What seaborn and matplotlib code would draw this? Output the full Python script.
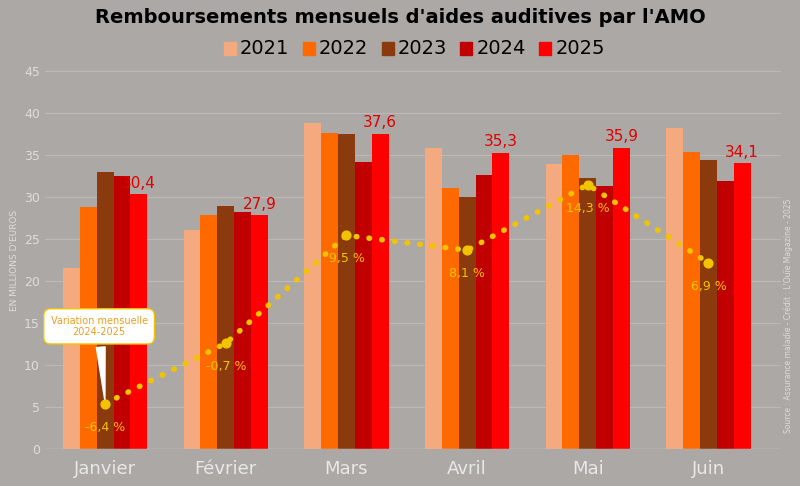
import matplotlib
matplotlib.use("Agg")
import matplotlib.pyplot as plt
import seaborn as sns
import pandas as pd
import numpy as np

months = ["Janvier", "Février", "Mars", "Avril", "Mai", "Juin"]
years = ["2021", "2022", "2023", "2024", "2025"]
v2021 = [21.6, 26.1, 38.8, 35.9, 34.0, 38.3]
v2022 = [28.8, 27.9, 37.7, 31.1, 35.0, 35.4]
v2023 = [33.0, 29.0, 37.6, 30.0, 32.3, 34.4]
v2024 = [32.5, 28.3, 34.2, 32.6, 31.4, 31.9]
v2025 = [30.4, 27.9, 37.6, 35.3, 35.9, 34.1]
variation = [-6.4, -0.7, 9.5, 8.1, 14.3, 6.9]
colors = ["#f4a97e", "#ff6a00", "#8b3a0e", "#c00000", "#ff0000"]
bg = "#aca8a6"

rows = []
for y, vals in zip(years, [v2021, v2022, v2023, v2024, v2025]):
    for m, v in zip(months, vals):
        rows.append(dict(mois=m, annee=y, val=v))
df = pd.DataFrame(rows)

W = 0.7
fig = plt.figure(figsize=(8, 4.86), dpi=100, facecolor=bg)
ax = fig.add_axes([0.056, 0.076, 0.92, 0.777], facecolor=bg)
sns.barplot(data=df, x="mois", y="val", hue="annee", palette=colors, ax=ax,
            width=W, saturation=1, legend=False)
ax.set_ylim(0, 45)
ax.set_xlim(-0.5, 5.6)
ax.set_yticks(range(0, 46, 5))
for s in ax.spines.values():
    s.set_visible(False)
ax.grid(axis="y", color="#bdb9b7", lw=0.8)
ax.set_axisbelow(True)
ax.tick_params(axis="y", colors="#dddddd", labelsize=9, length=0)
ax.tick_params(axis="x", colors="#e8e8e8", labelsize=13, length=0, pad=8)
ax.axhline(0, color="#d0cccb", lw=1)
ax.set_xlabel("")
ax.set_ylabel("EN MILLIONS D'EUROS", color="#dddddd", fontsize=6.5)
n = len(years); w = W / n
for i, v in enumerate(v2025):
    ax.text(i + 2 * w, v + 0.4, f"{v:.1f}".replace(".", ","), ha="center", va="bottom",
            color="#e00000", fontsize=11)

ax2 = ax.twinx()
ax2.set_ylim(-10.7, 25)
ax2.axis("off")
x = np.arange(len(months))
ax2.plot(x, variation, ls=(0, (0.1, 2.2)), lw=4, color="#f2c400", dash_capstyle="round")
ax2.scatter(x, variation, s=40, color="#f2c400", zorder=5)
for i, v in enumerate(variation):
    ax2.text(i, v - 1.6, f"{v:.1f} %".replace(".", ","), ha="center", va="top",
             color="#f2c400", fontsize=9)
ax2.annotate("Variation mensuelle\n2024-2025", xy=(0, variation[0]), xytext=(-0.05, 0.9),
             ha="center", va="center", color="#e8a020", fontsize=7,
             bbox=dict(boxstyle="round,pad=0.7", fc="white", ec="#f2c400"),
             arrowprops=dict(arrowstyle="wedge,tail_width=0.9", fc="white", ec="white"))

fig.text(0.5, 0.963, "Remboursements mensuels d'aides auditives par l'AMO", ha="center", va="center",
         fontsize=14, fontweight="bold", color="black")
xs = 0.28
for y, c in zip(years, colors):
    fig.patches.append(plt.Rectangle((xs, 0.887), 0.015, 0.027, color=c, transform=fig.transFigure))
    fig.text(xs + 0.02, 0.9, y, fontsize=14, va="center", color="black")
    xs += 0.0985
fig.text(0.985, 0.35, "Source : Assurance maladie - Crédit : L'Ouïe Magazine - 2025", rotation=90,
         fontsize=5.5, color="#dddddd", ha="center", va="center")
fig.savefig("out.png", facecolor=bg)
